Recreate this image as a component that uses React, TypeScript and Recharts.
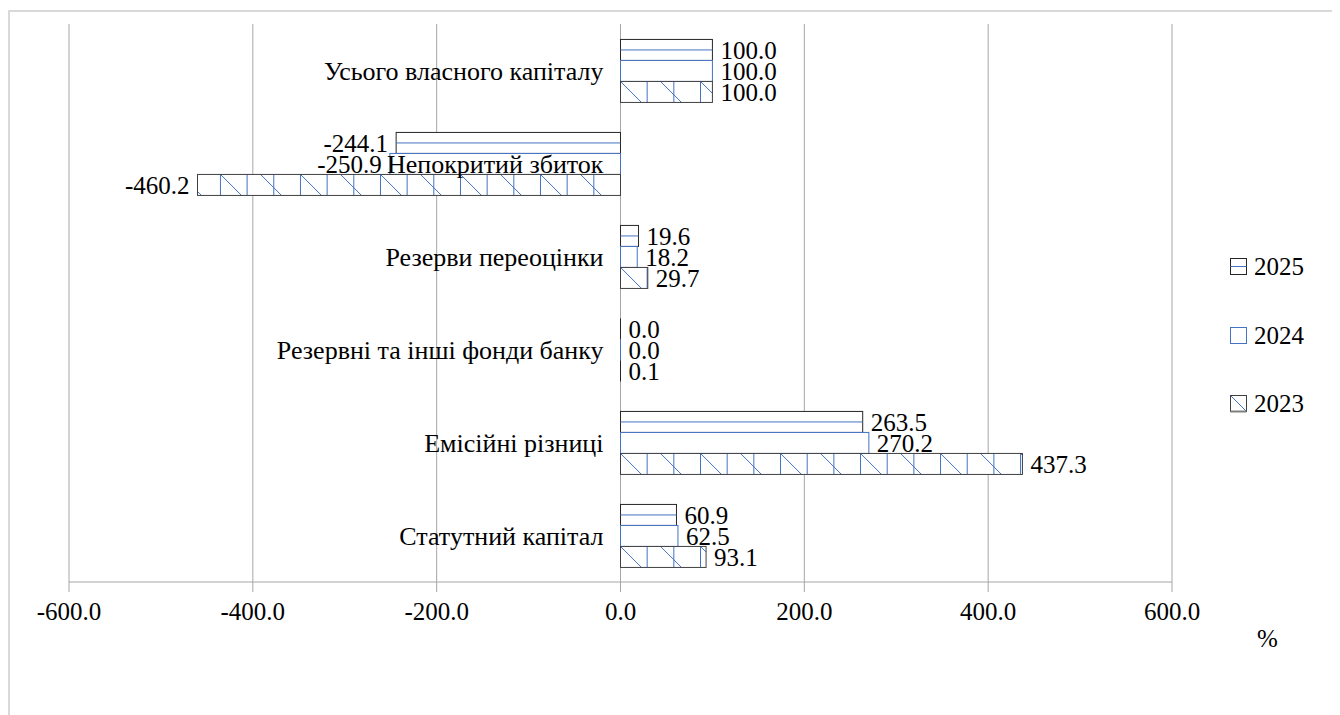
import React from 'react'
import { BarChart, Bar, XAxis, YAxis, CartesianGrid, LabelList } from 'recharts'

const categories = [
  'Усього власного капіталу',
  'Непокритий збиток',
  'Резерви переоцінки',
  'Резервні та інші фонди банку',
  'Емісійні різниці',
  'Статутний капітал',
]
const values2025 = [100.0, -244.1, 19.6, 0.0, 263.5, 60.9]
const values2024 = [100.0, -250.9, 18.2, 0.0, 270.2, 62.5]
const values2023 = [100.0, -460.2, 29.7, 0.1, 437.3, 93.1]
const xTicks = [-600, -400, -200, 0, 200, 400, 600]
const years = ['2025', '2024', '2023']

const data = categories.map((name, i) => ({
  name,
  y2025: values2025[i],
  y2024: values2024[i],
  y2023: values2023[i],
}))

const FONT = "'Liberation Serif', 'Times New Roman', serif"
const FS = 25
const BLUE = '#4472C4'
const GRID = '#a6a6a6'

const W = 1332
const H = 707
const MARGIN = { top: 16, right: 168, bottom: 93, left: 60 }
const Y_W = 1
const PLOT_LEFT = MARGIN.left + Y_W
const PLOT_W = W - PLOT_LEFT - MARGIN.right
const X_MIN = xTicks[0]
const X_MAX = xTicks[xTicks.length - 1]
// x of the zero value in chart coords, the category labels sit just left of it
const ZERO_X = PLOT_LEFT + (PLOT_W * (0 - X_MIN)) / (X_MAX - X_MIN)
const VSTEP = 26.67
const DSTEP = 40

function box(p: any) {
  const left = Math.min(p.x, p.x + p.width)
  const right = Math.max(p.x, p.x + p.width)
  return { left, right, top: p.y, bottom: p.y + p.height, w: right - left, h: p.height }
}

function Shape2025(props: any) {
  const b = box(props)
  if (b.w < 1) {
    return <line x1={b.left} x2={b.left} y1={b.top} y2={b.bottom} stroke="#262626" />
  }
  const my = b.top + b.h / 2
  return (
    <g>
      <rect x={b.left} y={b.top} width={b.w} height={b.h} fill="#fff" stroke="#262626" />
      <line x1={b.left} x2={b.right} y1={my} y2={my} stroke={BLUE} />
    </g>
  )
}

function Shape2024(props: any) {
  const b = box(props)
  if (b.w < 1) {
    return <line x1={b.left} x2={b.left} y1={b.top} y2={b.bottom} stroke={BLUE} />
  }
  return <rect x={b.left} y={b.top} width={b.w} height={b.h} fill="#fff" stroke={BLUE} />
}

function Shape2023(props: any) {
  const b = box(props)
  if (b.w < 1) {
    return <line x1={b.left} x2={b.left} y1={b.top} y2={b.bottom} stroke="#262626" />
  }
  const lines: any[] = []
  for (let k = -40; k <= 40; k++) {
    const vx = ZERO_X + k * VSTEP
    if (vx > b.left + 0.5 && vx < b.right - 0.5) {
      lines.push(<line key={'v' + k} x1={vx} x2={vx} y1={b.top} y2={b.bottom} stroke={BLUE} />)
    }
    const dx = ZERO_X + k * DSTEP
    const sx = Math.max(dx, b.left)
    const ex = Math.min(dx + b.h, b.right)
    if (ex > sx) {
      lines.push(
        <line key={'d' + k} x1={sx} y1={b.top + (sx - dx)} x2={ex} y2={b.top + (ex - dx)} stroke={BLUE} />
      )
    }
  }
  return (
    <g>
      <rect x={b.left} y={b.top} width={b.w} height={b.h} fill="#fff" />
      {lines}
      <rect x={b.left} y={b.top} width={b.w} height={b.h} fill="none" stroke="#404040" />
    </g>
  )
}

function CategoryTick(props: any) {
  const { y, payload } = props
  return (
    <text
      x={ZERO_X - 17}
      y={y}
      dy="0.35em"
      textAnchor="end"
      fontSize={26}
      fontFamily="Liberation Serif"
      fill="#000"
      style={{ fontFamily: FONT }}
    >
      {payload.value}
    </text>
  )
}

function Swatch({ year }: { year: string }) {
  if (year === '2025') {
    return (
      <svg width={18} height={18}>
        <rect x={0.5} y={0.5} width={16} height={16} fill="#fff" stroke="#262626" />
        <line x1={0.5} x2={16.5} y1={8.5} y2={8.5} stroke={BLUE} />
      </svg>
    )
  }
  if (year === '2024') {
    return (
      <svg width={18} height={18}>
        <rect x={0.5} y={0.5} width={16} height={16} fill="#fff" stroke={BLUE} />
      </svg>
    )
  }
  return (
    <svg width={18} height={18}>
      <rect x={0.5} y={0.5} width={16} height={16} fill="#fff" stroke="#404040" />
      <line x1={1} y1={1} x2={16} y2={16} stroke={BLUE} />
      <line x1={0.5} x2={16.5} y1={16.5} y2={16.5} stroke="#7f7f7f" strokeWidth={2} />
    </svg>
  )
}

const labelProps = {
  position: 'right' as const,
  offset: 8,
  fill: '#000',
  fontSize: FS,
  fontFamily: 'Liberation Serif',
  style: { fontFamily: FONT },
  formatter: (v: any) => Number(v).toFixed(1),
}

export default function App() {
  const legendTops = [246, 315, 383]
  return (
    <div style={{ position: 'relative', width: W, height: H, fontFamily: FONT }}>
      <style>{'body{margin:8px;overflow:hidden} svg text{font-family:' + FONT + '}'}</style>
      <div
        style={{
          position: 'absolute',
          left: 0,
          top: 2,
          width: 1330,
          height: 740,
          border: '2px solid #d9d9d9',
          boxSizing: 'border-box',
        }}
      />
      <div style={{ position: 'absolute', left: 0, top: 0 }}>
        <BarChart
          width={W}
          height={H}
          data={data}
          layout="vertical"
          margin={MARGIN}
          barGap={0}
          barCategoryGap="16.6%"
        >
          <CartesianGrid horizontal={false} stroke={GRID} />
          <XAxis
            type="number"
            domain={[X_MIN, X_MAX]}
            ticks={xTicks}
            height={40}
            tickSize={10}
            tickMargin={10}
            stroke={GRID}
            tick={{ fill: '#000', fontSize: FS, fontFamily: 'Liberation Serif' }}
            tickFormatter={(v: number) => v.toFixed(1)}
            allowDataOverflow
          />
          <YAxis
            type="category"
            dataKey="name"
            width={Y_W}
            axisLine={false}
            tickLine={false}
            tick={(p: any) => <CategoryTick {...p} />}
            interval={0}
          />
          <Bar dataKey="y2025" shape={<Shape2025 />} isAnimationActive={false}>
            <LabelList dataKey="y2025" {...labelProps} />
          </Bar>
          <Bar dataKey="y2024" shape={<Shape2024 />} isAnimationActive={false}>
            <LabelList dataKey="y2024" {...labelProps} />
          </Bar>
          <Bar dataKey="y2023" shape={<Shape2023 />} isAnimationActive={false}>
            <LabelList dataKey="y2023" {...labelProps} />
          </Bar>
        </BarChart>
      </div>
      {years.map((yr, i) => (
        <div
          key={yr}
          style={{
            position: 'absolute',
            left: 1222,
            top: legendTops[i],
            display: 'flex',
            alignItems: 'center',
            fontSize: FS,
            lineHeight: '25px',
            color: '#000',
          }}
        >
          <Swatch year={yr} />
          <span style={{ marginLeft: 6 }}>{yr}</span>
        </div>
      ))}
      <div
        style={{
          position: 'absolute',
          left: 1249,
          top: 618,
          fontSize: FS,
          lineHeight: '25px',
          color: '#000',
        }}
      >
        %
      </div>
    </div>
  )
}
